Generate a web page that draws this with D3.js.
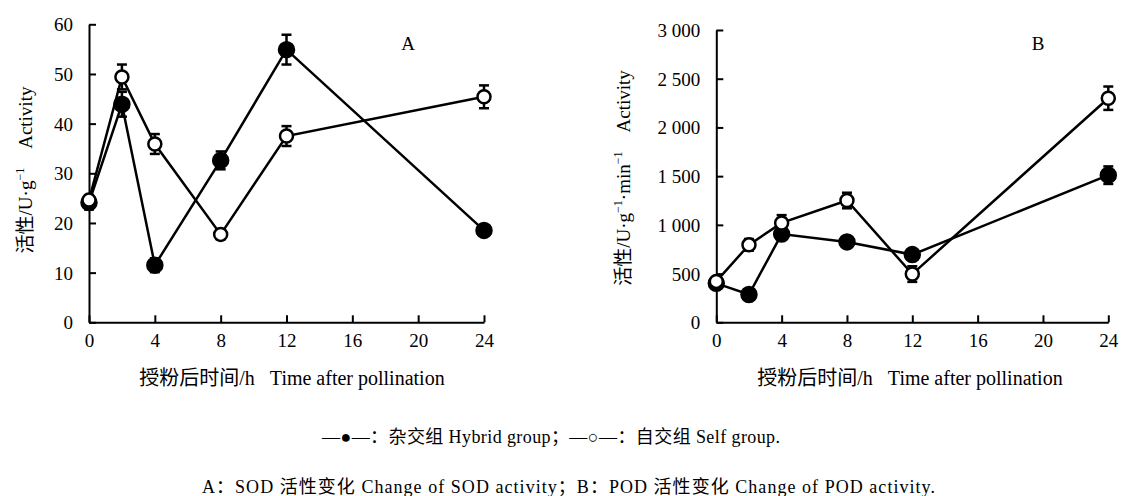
<!DOCTYPE html>
<html>
<head>
<meta charset="utf-8">
<script src="https://cdn.jsdelivr.net/npm/d3@7"></script>
<style>
  body { margin: 0; background: #fff; }
</style>
</head>
<body>
<svg id="fig" width="1126" height="496"></svg>
<script>
// time points (h)
var hours = [0, 2, 4, 8, 12, 24];
var xTicks = [0, 4, 8, 12, 16, 20, 24];

// A: SOD activity
var sodHybrid = [24.1, 43.9, 11.5, 32.6, 54.9, 18.5];
var sodHybridErr = [1.4, 2.5, 1.4, 1.8, 3.0, 0.5];
var sodSelf = [24.6, 49.4, 35.9, 17.7, 37.5, 45.4];
var sodSelfErr = [1.0, 2.5, 2.0, 1.0, 2.0, 2.3];
var sodTicks = [0, 10, 20, 30, 40, 50, 60];

// B: POD activity
var podHybrid = [400, 285, 905, 825, 695, 1510];
var podHybridErr = [30, 30, 40, 30, 30, 90];
var podSelf = [420, 795, 1020, 1250, 495, 2300];
var podSelfErr = [40, 60, 80, 80, 80, 120];
var podTicks = [0, 500, 1000, 1500, 2000, 2500, 3000];

var FONT = '"Liberation Serif", "Times New Roman", "Noto Sans CJK SC", serif';
var svg = d3.select("#fig");
var fmtSpace = d3.formatLocale({decimal: ".", thousands: " ", grouping: [3], currency: ["", ""]}).format(",");

function txt(sel) { return sel.style("font-family", FONT).attr("fill", "#000"); }

function panel(cfg) {
  var x = d3.scaleLinear().domain([0, 24]).range([cfg.x0, cfg.x1]);
  var y = d3.scaleLinear().domain([0, cfg.ymax]).range([322.3, cfg.ytop]);
  var g = svg.append("g");

  var xa = g.append("g")
    .attr("transform", "translate(0,322.3)")
    .call(d3.axisBottom(x).tickValues(xTicks).tickSize(-7).tickSizeOuter(0).tickPadding(11));
  var ya = g.append("g")
    .attr("transform", "translate(" + cfg.x0 + ",0)")
    .call(d3.axisLeft(y).tickValues(cfg.ticks).tickSize(-7).tickSizeOuter(0).tickPadding(16).tickFormat(cfg.fmt));
  [xa, ya].forEach(function(a) {
    a.select(".domain").attr("stroke", "#000").attr("stroke-width", 2);
    a.selectAll(".tick line").attr("stroke", "#000").attr("stroke-width", 2);
    txt(a.selectAll(".tick text").attr("font-size", 19));
  });
  ya.selectAll(".tick text").attr("dy", "0.34em");

  var line = d3.line().x(function(d, i) { return x(hours[i]); }).y(function(d) { return y(d); });

  var series = [
    {v: cfg.hybrid, e: cfg.hybridErr, fill: "#000"},
    {v: cfg.self, e: cfg.selfErr, fill: "#fff"}
  ];

  series.forEach(function(s) {
    g.append("path").datum(s.v)
      .attr("d", line).attr("fill", "none").attr("stroke", "#000").attr("stroke-width", 2.5);
  });

  series.forEach(function(s) {
    var eb = g.selectAll(null).data(s.v).enter().append("g");
    eb.append("line")
      .attr("x1", function(d, i) { return x(hours[i]); })
      .attr("x2", function(d, i) { return x(hours[i]); })
      .attr("y1", function(d, i) { return y(d + s.e[i]); })
      .attr("y2", function(d, i) { return y(d - s.e[i]); })
      .attr("stroke", "#000").attr("stroke-width", 2.5);
    [1, -1].forEach(function(sg) {
      eb.append("line")
        .attr("x1", function(d, i) { return x(hours[i]) - 5; })
        .attr("x2", function(d, i) { return x(hours[i]) + 5; })
        .attr("y1", function(d, i) { return y(d + sg * s.e[i]); })
        .attr("y2", function(d, i) { return y(d + sg * s.e[i]); })
        .attr("stroke", "#000").attr("stroke-width", 2.5);
    });
  });

  series.forEach(function(s) {
    g.selectAll(null).data(s.v).enter().append("circle")
      .attr("cx", function(d, i) { return x(hours[i]); })
      .attr("cy", function(d) { return y(d); })
      .attr("r", s.fill === "#000" ? 7.5 : 6.5)
      .attr("fill", s.fill)
      .attr("stroke", "#000").attr("stroke-width", 2.5);
  });

  // panel letter
  txt(g.append("text")).attr("x", cfg.letterX).attr("y", 50).attr("font-size", 19)
    .attr("text-anchor", "middle").text(cfg.letter);

  // x title
  txt(g.append("text")).attr("x", cfg.titleX).attr("y", 385).attr("font-size", 20)
    .attr("text-anchor", "middle").text("授粉后时间/h\u00a0\u00a0\u00a0Time after pollination");

  // y title
  var yt = txt(g.append("text"))
    .attr("transform", "translate(" + cfg.ylabX + "," + cfg.ylabY + ") rotate(-90)")
    .attr("text-anchor", "middle").attr("font-size", 19);
  cfg.ylab.forEach(function(p) {
    var t = yt.append("tspan").text(p.t);
    if (p.sup) t.attr("font-size", 12).attr("dy", -8);
    if (p.down) t.attr("dy", 8);
  });
}

panel({
  x0: 89, x1: 484, ytop: 24.3, ymax: 60, ticks: sodTicks, fmt: d3.format("d"),
  hybrid: sodHybrid, hybridErr: sodHybridErr, self: sodSelf, selfErr: sodSelfErr,
  letter: "A", letterX: 408, titleX: 292, ylabX: 32, ylabY: 170,
  ylab: [{t: "活性/U·g"}, {t: "−1", sup: true}, {t: "\u00a0\u00a0\u00a0\u00a0Activity", down: true}]
});

panel({
  x0: 716.3, x1: 1108.3, ytop: 30, ymax: 3000, ticks: podTicks, fmt: fmtSpace,
  hybrid: podHybrid, hybridErr: podHybridErr, self: podSelf, selfErr: podSelfErr,
  letter: "B", letterX: 1038, titleX: 910, ylabX: 630, ylabY: 178,
  ylab: [{t: "活性/U·g"}, {t: "−1", sup: true}, {t: "·min", down: true}, {t: "−1", sup: true},
         {t: "\u00a0\u00a0\u00a0\u00a0Activity", down: true}]
});

// legend and caption
txt(svg.append("text")).attr("x", 322).attr("y", 443).attr("font-size", 18)
  .attr("textLength", 458).attr("lengthAdjust", "spacing")
  .text("—●—：杂交组 Hybrid group；—○—：自交组 Self group.");
txt(svg.append("text")).attr("x", 202).attr("y", 493).attr("font-size", 18)
  .attr("textLength", 733).attr("lengthAdjust", "spacing")
  .text("A：SOD 活性变化 Change of SOD activity；B：POD 活性变化 Change of POD activity.");
</script>
</body>
</html>
